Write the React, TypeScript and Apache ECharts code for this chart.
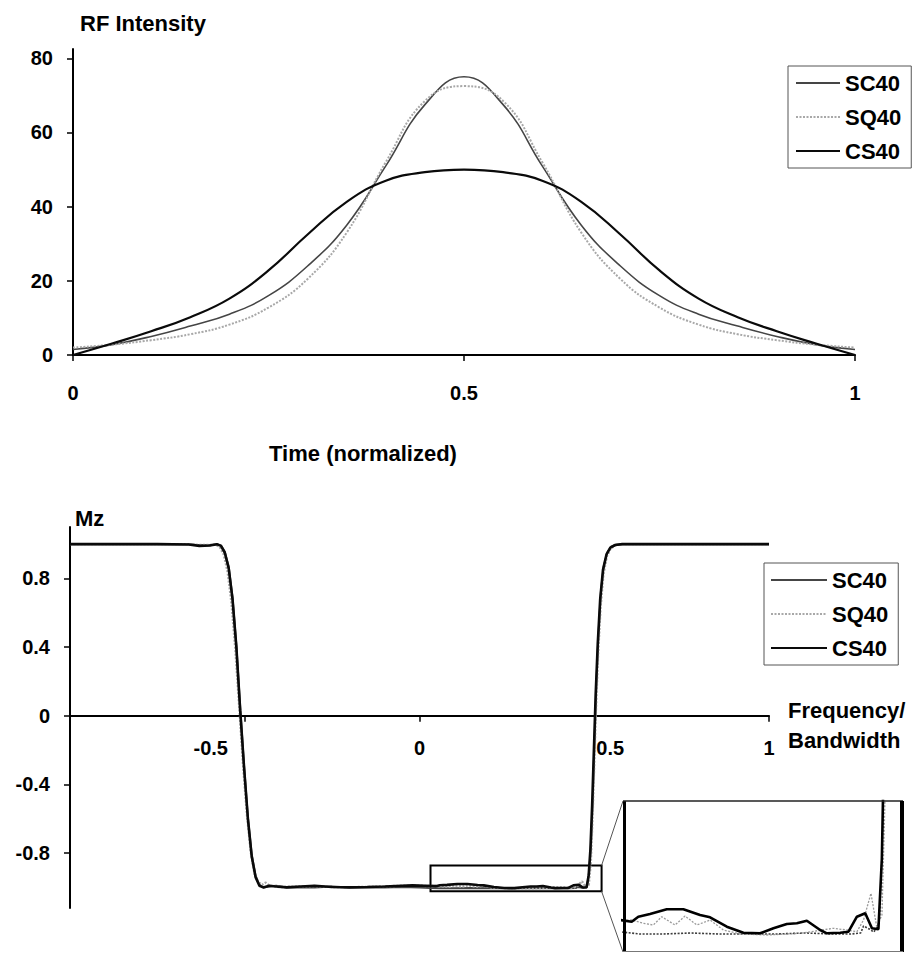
import React, { useEffect, useRef } from "react";
import * as echarts from "echarts";

// ---------- data ----------
const seriesNames = ["SC40", "SQ40", "CS40"];

// RF pulse (top chart)
const rfTime = [0, 0.05, 0.1, 0.15, 0.2, 0.25, 0.3, 0.35, 0.4, 0.45, 0.5, 0.55, 0.6, 0.65, 0.7, 0.75, 0.8, 0.85, 0.9, 0.95, 1];
const rfSC40 = [1.5, 2.8, 5, 7.8, 11, 16, 24, 35, 51, 67.5, 75, 67.5, 51, 35, 24, 16, 11, 7.8, 5, 2.8, 1.5];
const rfSQ40 = [2, 2.8, 4, 5.6, 8.2, 12.8, 20.5, 33, 52, 68.5, 72.5, 68.5, 52, 33, 20.5, 12.8, 8.2, 5.6, 4, 2.8, 2];
const rfCS40 = [0, 3.1, 6.4, 10.2, 15.2, 22.8, 32.5, 41.3, 47, 49.3, 50, 49.3, 47, 41.3, 32.5, 22.8, 15.2, 10.2, 6.4, 3.1, 0];
const rfTicks = [0, 20, 40, 60, 80];
const timeTicks = [0, 0.5, 1];

// Mz profile (bottom chart)
const freqCS40 = [-1, -0.75, -0.66, -0.63, -0.6, -0.58, -0.568, -0.557, -0.546, -0.535, -0.524, -0.513, -0.502, -0.491, -0.48, -0.469, -0.458, -0.447, -0.43, -0.41, -0.38, -0.34, -0.3, -0.25, -0.2, -0.15, -0.1, -0.05, -0.02, 0.015, 0.0467, 0.0583, 0.0787, 0.108, 0.137, 0.1662, 0.1837, 0.213, 0.242, 0.2712, 0.2945, 0.3179, 0.3354, 0.3529, 0.3762, 0.3879, 0.4112, 0.4257, 0.4404, 0.455, 0.4667, 0.478, 0.484, 0.489, 0.494, 0.499, 0.504, 0.51, 0.517, 0.525, 0.535, 0.546, 0.56, 0.58, 0.7, 1];
const mzCS40 = [1, 1, 0.998, 0.99, 0.992, 1, 0.99, 0.95, 0.86, 0.68, 0.4, 0.03, -0.3, -0.6, -0.82, -0.94, -0.99, -1, -0.99, -0.995, -1, -0.995, -0.99, -0.998, -1, -0.998, -0.995, -0.99, -0.988, -0.99, -0.9927, -0.9877, -0.985, -0.9803, -0.9803, -0.986, -0.9883, -0.9977, -1.0037, -1.0043, -0.9993, -0.995, -0.9943, -0.9917, -1.001, -1.0043, -1.0037, -1.0027, -0.9877, -0.9843, -0.9993, -1.0003, -0.93, -0.78, -0.52, -0.2, 0.12, 0.42, 0.68, 0.85, 0.94, 0.98, 0.995, 1, 1, 1];

const freqSC40 = [-1, -0.75, -0.66, -0.63, -0.6, -0.58, -0.568, -0.557, -0.546, -0.535, -0.524, -0.513, -0.502, -0.491, -0.48, -0.469, -0.458, -0.447, -0.43, -0.41, -0.38, -0.3, -0.25, -0.2, -0.1, -0.05, 0, 0.03, 0.06, 0.1, 0.15, 0.2, 0.25, 0.3, 0.35, 0.4, 0.43, 0.447, 0.452, 0.462, 0.47, 0.476, 0.48, 0.486, 0.491, 0.496, 0.501, 0.506, 0.512, 0.519, 0.527, 0.537, 0.548, 0.562, 0.58, 0.7, 1];
const mzSC40 = [1, 1, 0.999, 0.993, 0.994, 1, 0.992, 0.955, 0.87, 0.69, 0.41, 0.05, -0.29, -0.59, -0.81, -0.935, -0.985, -1, -0.995, -0.99, -1, -1, -0.995, -1, -1, -0.998, -1, -1.003, -1.005, -1.005, -1.004, -1.005, -1.005, -1.005, -1.004, -1.005, -1.005, -1.004, -0.997, -1, -1.003, -0.998, -0.99, -0.9, -0.74, -0.47, -0.14, 0.18, 0.47, 0.72, 0.87, 0.95, 0.985, 0.997, 1, 1, 1];

const freqSQ40 = [-1, -0.75, -0.66, -0.63, -0.6, -0.585, -0.572, -0.56, -0.549, -0.538, -0.527, -0.516, -0.505, -0.494, -0.483, -0.472, -0.461, -0.45, -0.44, -0.43, -0.4, -0.35, -0.3, -0.25, -0.2, -0.15, -0.1, -0.05, 0, 0.025, 0.0467, 0.067, 0.0845, 0.0992, 0.1225, 0.14, 0.1605, 0.1837, 0.207, 0.2362, 0.2829, 0.3412, 0.3995, 0.4229, 0.4404, 0.452, 0.465, 0.475, 0.4842, 0.49, 0.495, 0.5, 0.505, 0.511, 0.518, 0.526, 0.536, 0.547, 0.56, 0.58, 0.7, 1];
const mzSQ40 = [1, 1, 1, 0.995, 0.995, 0.998, 0.985, 0.94, 0.84, 0.66, 0.39, 0.06, -0.28, -0.57, -0.79, -0.92, -0.97, -0.985, -0.972, -0.99, -0.998, -0.995, -0.992, -0.998, -0.999, -0.997, -0.994, -0.99, -0.99, -0.992, -0.991, -0.9943, -0.996, -0.9877, -0.996, -0.987, -0.996, -0.991, -1.001, -1.005, -1.006, -1.0043, -0.9993, -1.001, -1.0027, -0.991, -0.9643, -0.9977, -0.986, -0.86, -0.6, -0.28, 0.04, 0.36, 0.63, 0.82, 0.93, 0.975, 0.993, 1, 1, 1];

const mzTicks = [-0.8, -0.4, 0, 0.4, 0.8];
const freqTicks = [-0.5, 0, 0.5, 1];

// magnified region (inset)
const zoomFreqRange = [0.0315, 0.521];
const zoomMzRange = [-1.023, -0.872];

// ---------- layout / style ----------
const FONT = '"Liberation Sans", Arial, Helvetica, sans-serif';
const TOP_GRID = { left: 73, top: 49, width: 782, height: 306 };
const BOT_GRID = { left: 70, top: 527, width: 699, height: 381 };
const BOT_Y_MIN = -1.12;
const BOT_Y_MAX = 1.1;
const INSET = { left: 623, top: 801, width: 280, height: 151 };

const lineStyles: Record<string, any> = {
  SC40: { color: "#454545", width: 1.6, type: "solid" },
  SQ40: { color: "#a8a8a8", width: 2, type: [2, 1.5] },
  CS40: { color: "#0a0a0a", width: 2.2, type: "solid" },
};
const insetStyles: Record<string, any> = {
  SC40: { color: "#3c3c3c", width: 1.6, type: [2, 1.5] },
  SQ40: { color: "#9a9a9a", width: 1.3, type: [2, 1.5] },
  CS40: { color: "#000000", width: 2.6, type: "solid" },
};

const rfData: Record<string, number[]> = { SC40: rfSC40, SQ40: rfSQ40, CS40: rfCS40 };
const freqData: Record<string, number[]> = { SC40: freqSC40, SQ40: freqSQ40, CS40: freqCS40 };
const mzData: Record<string, number[]> = { SC40: mzSC40, SQ40: mzSQ40, CS40: mzCS40 };

const pairs = (xs: number[], ys: number[]) => xs.map((x, i) => [x, ys[i]]);

const axisLineStyle = { color: "#000", width: 2 };
const tickStyle = { color: "#000", width: 1.5 };
const labelStyle = { fontSize: 20, fontWeight: "bold", color: "#000", fontFamily: FONT };

function buildOption() {
  const series: any[] = [];
  seriesNames.forEach((name) => {
    series.push({
      type: "line",
      name,
      xAxisIndex: 0,
      yAxisIndex: 0,
      data: pairs(rfTime, rfData[name]),
      smooth: 0.45,
      symbol: "none",
      showSymbol: false,
      lineStyle: lineStyles[name],
      itemStyle: { color: lineStyles[name].color },
      emphasis: { disabled: true },
    });
  });
  seriesNames.forEach((name) => {
    const s: any = {
      type: "line",
      name,
      xAxisIndex: 1,
      yAxisIndex: 1,
      data: pairs(freqData[name], mzData[name]),
      symbol: "none",
      showSymbol: false,
      lineStyle: { ...lineStyles[name], width: lineStyles[name].width + 0.4 },
      itemStyle: { color: lineStyles[name].color },
      emphasis: { disabled: true },
    };
    if (name === "CS40") {
      s.markArea = {
        silent: true,
        label: { show: false },
        itemStyle: { color: "rgba(0,0,0,0)", borderColor: "#000", borderWidth: 2 },
        data: [[{ coord: [zoomFreqRange[0], zoomMzRange[1]] }, { coord: [zoomFreqRange[1], zoomMzRange[0]] }]],
      };
    }
    series.push(s);
  });
  seriesNames.forEach((name) => {
    series.push({
      type: "line",
      name,
      xAxisIndex: 2,
      yAxisIndex: 2,
      data: pairs(freqData[name], mzData[name]),
      symbol: "none",
      showSymbol: false,
      clip: true,
      lineStyle: insetStyles[name],
      itemStyle: { color: insetStyles[name].color },
      emphasis: { disabled: true },
    });
  });

  const legendCommon = {
    orient: "vertical",
    data: seriesNames,
    backgroundColor: "#fff",
    borderColor: "#555",
    borderWidth: 1,
    itemHeight: 14,
    itemGap: 12,
    selectedMode: false,
    itemStyle: { opacity: 0 },
    textStyle: { fontSize: 22, fontWeight: "bold", color: "#000", fontFamily: FONT },
  };

  // put the bottom x axis on Mz = 0
  const zeroOffset = -(BOT_GRID.height * (0 - BOT_Y_MIN)) / (BOT_Y_MAX - BOT_Y_MIN);

  return {
    animation: false,
    backgroundColor: "#fff",
    textStyle: { fontFamily: FONT },
    grid: [
      { ...TOP_GRID, outerBoundsMode: "none" },
      { ...BOT_GRID, outerBoundsMode: "none" },
      { ...INSET, outerBoundsMode: "none" },
    ],
    legend: [
      { ...legendCommon, left: 788, top: 66, padding: [6, 10, 6, 7], itemWidth: 44 },
      { ...legendCommon, left: 764, top: 563, padding: [6, 10, 6, 6], itemWidth: 56 },
    ],
    xAxis: [
      {
        gridIndex: 0,
        type: "value",
        min: 0,
        max: 1,
        axisLine: { lineStyle: axisLineStyle },
        axisTick: { show: true, length: 6, lineStyle: tickStyle, customValues: timeTicks },
        axisLabel: { ...labelStyle, margin: 28, customValues: timeTicks },
        splitLine: { show: false },
      },
      {
        gridIndex: 1,
        type: "value",
        min: -1,
        max: 1,
        position: "bottom",
        offset: zeroOffset,
        axisLine: { onZero: false, lineStyle: axisLineStyle },
        axisTick: { show: true, length: 6, lineStyle: tickStyle, customValues: freqTicks },
        axisLabel: {
          ...labelStyle,
          margin: 22,
          customValues: freqTicks,
          formatter: (v: number) => (v === -0.5 ? "{l|-0.5}" : v === 0.5 ? "{r|0.5}" : String(v)),
          rich: {
            l: { ...labelStyle, padding: [0, 68, 0, 0] },
            r: { ...labelStyle, padding: [0, 0, 0, 32] },
          },
        },
        splitLine: { show: false },
      },
      { gridIndex: 2, type: "value", min: zoomFreqRange[0], max: zoomFreqRange[1], show: false, splitLine: { show: false } },
    ],
    yAxis: [
      {
        gridIndex: 0,
        type: "value",
        min: 0,
        max: 82.5,
        axisLine: { show: true, lineStyle: axisLineStyle },
        axisTick: { show: true, length: 6, lineStyle: tickStyle, customValues: rfTicks },
        axisLabel: { ...labelStyle, margin: 20, customValues: rfTicks },
        splitLine: { show: false },
      },
      {
        gridIndex: 1,
        type: "value",
        min: BOT_Y_MIN,
        max: BOT_Y_MAX,
        axisLine: { show: true, onZero: false, lineStyle: axisLineStyle },
        axisTick: { show: true, length: 6, lineStyle: tickStyle, customValues: mzTicks },
        axisLabel: { ...labelStyle, margin: 20, customValues: mzTicks },
        splitLine: { show: false },
      },
      { gridIndex: 2, type: "value", min: zoomMzRange[0], max: zoomMzRange[1], show: false, splitLine: { show: false } },
    ],
    series,
  };
}

function textEl(text: string, x: number, y: number, align: string = "left") {
  return {
    type: "text",
    x,
    y,
    silent: true,
    style: {
      text,
      font: `bold 22px ${FONT}`,
      fill: "#000",
      align,
      textAlign: align,
      verticalAlign: "middle",
      textVerticalAlign: "middle",
    },
  };
}

function lineEl(x1: number, y1: number, x2: number, y2: number, color: string, width: number) {
  return {
    type: "line",
    silent: true,
    z: 10,
    shape: { x1, y1, x2, y2 },
    style: { stroke: color, lineWidth: width },
  };
}

export default function App() {
  const ref = useRef<HTMLDivElement>(null);
  useEffect(() => {
    if (!ref.current) return;
    const chart = echarts.init(ref.current, null, { renderer: "svg" });
    chart.setOption(buildOption() as any);

    const rTop = chart.convertToPixel({ gridIndex: 1 } as any, [zoomFreqRange[1], zoomMzRange[1]]) as number[];
    const rBot = chart.convertToPixel({ gridIndex: 1 } as any, [zoomFreqRange[1], zoomMzRange[0]]) as number[];
    const L = INSET.left, T = INSET.top, R = INSET.left + INSET.width, B = INSET.top + INSET.height;

    chart.setOption({
      graphic: [
        textEl("RF Intensity", 80, 23),
        textEl("Time (normalized)", 363, 453, "center"),
        textEl("Mz", 75, 518),
        textEl("Frequency/", 788, 710),
        textEl("Bandwidth", 788, 740),
        lineEl(rTop[0], rTop[1], L, T, "#555", 1),
        lineEl(rBot[0], rBot[1], L, B, "#555", 1),
        lineEl(L + 1.5, T, L + 1.5, B, "#000", 3),
        lineEl(L, T, R, T, "#222", 1.5),
        lineEl(R - 1, T, R - 1, B, "#000", 4),
        lineEl(L, B - 0.5, R, B - 0.5, "#777", 1.2),
      ],
    } as any);

    return () => chart.dispose();
  }, []);
  return (
    <div
      ref={ref}
      style={{ position: "absolute", left: 0, top: 0, width: 915, height: 953, background: "#fff" }}
    />
  );
}
